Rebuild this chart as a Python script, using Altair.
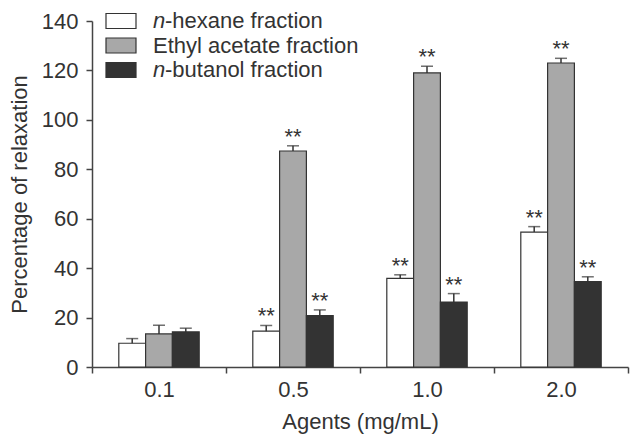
import altair as alt
import pandas as pd

agents = ["0.1", "0.5", "1.0", "2.0"]
fractions = ["n-hexane fraction", "Ethyl acetate fraction", "n-butanol fraction"]
hexane = [9.6, 14.5, 35.9, 54.6]
hexane_err = [1.9, 2.3, 1.4, 2.2]
ethyl = [13.4, 87.4, 119.0, 123.0]
ethyl_err = [3.5, 2.1, 2.7, 1.9]
butanol = [14.2, 20.8, 26.3, 34.6]
butanol_err = [1.5, 2.3, 3.4, 1.9]
marks_sig = ["", "**", "**", "**"]
fills = ["#ffffff", "#a8a8a8", "#333333"]

rows = []
for f, vals, errs in zip(fractions, [hexane, ethyl, butanol], [hexane_err, ethyl_err, butanol_err]):
    for a, v, e, s in zip(agents, vals, errs, marks_sig):
        rows.append({"agent": a, "fraction": f, "value": v, "upper": v + e, "star": s})
df = pd.DataFrame(rows)

FONT = "Liberation Sans"
INK = "#333333"
FS = 22

x = alt.X("agent:N", sort=agents,
          scale=alt.Scale(paddingInner=0, paddingOuter=0),
          axis=alt.Axis(title="Agents (mg/mL)", labelAngle=0, tickBand="extent",
                        labelPadding=6, titlePadding=11))
xo = alt.XOffset("fraction:N", sort=fractions,
                 scale=alt.Scale(paddingInner=0, paddingOuter=alt.ExprRef(expr="1.46")))
yscale = alt.Scale(domain=[0, 140], nice=False)

base = alt.Chart(df)

bars = base.mark_bar(stroke=INK, strokeWidth=1.2).encode(
    x=x, xOffset=xo,
    y=alt.Y("value:Q", scale=yscale,
            axis=alt.Axis(title="Percentage of relaxation", values=list(range(0, 141, 20)),
                          labelPadding=8, titlePadding=10)),
    color=alt.Color("fraction:N", sort=fractions,
                    scale=alt.Scale(domain=fractions, range=fills), legend=None),
)

err = base.mark_rule(color=INK, strokeWidth=1.5).encode(
    x=x, xOffset=xo, y=alt.Y("value:Q", scale=yscale), y2="upper:Q")

caps = base.mark_tick(orient="horizontal", size=12, thickness=1.5, color=INK).encode(
    x=x, xOffset=xo, y=alt.Y("upper:Q", scale=yscale))

stars = base.mark_text(font=FONT, fontSize=22, color=INK, baseline="alphabetic", dy=-2).encode(
    x=x, xOffset=xo, y=alt.Y("upper:Q", scale=yscale), text="star:N")

# legend (manual, to allow italic "n")
one = pd.DataFrame({"k": [0]})
legend_layers = []
prefixes = ["n", "", "n"]
rests = ["-hexane fraction", "Ethyl acetate fraction", "-butanol fraction"]
for i, (pre, rest, fc) in enumerate(zip(prefixes, rests, fills)):
    r = 0 + i * 24.5
    legend_layers.append(alt.Chart(one).mark_rect(fill=fc, stroke=INK, strokeWidth=1.2).encode(
        x=alt.value(14), x2=alt.value(44), y=alt.value(r - 7.5), y2=alt.value(r + 7.5)))
    xt = 61
    if pre:
        legend_layers.append(alt.Chart(one).mark_text(
            text=pre, font=FONT, fontSize=FS, fontStyle="italic", color=INK,
            align="left", baseline="middle").encode(x=alt.value(xt), y=alt.value(r)))
        xt += 12
    legend_layers.append(alt.Chart(one).mark_text(
        text=rest, font=FONT, fontSize=FS, color=INK,
        align="left", baseline="middle").encode(x=alt.value(xt), y=alt.value(r)))

chart = alt.layer(bars, err, caps, stars, *legend_layers).properties(
    width=536, height=346,
    autosize=alt.AutoSizeParams(type="none"),
    padding={"left": 84, "top": 13, "right": 2, "bottom": 69},
).configure_view(stroke=None).configure_axis(
    grid=False, domainColor="#444444", domainWidth=1.5, tickColor="#444444",
    tickWidth=1.5, tickSize=6, labelFont=FONT, labelFontSize=FS, labelColor=INK,
    titleFont=FONT, titleFontSize=FS, titleFontWeight="normal", titleColor=INK,
)

chart.save("out.html", embed_options={"renderer": "svg", "actions": False})
